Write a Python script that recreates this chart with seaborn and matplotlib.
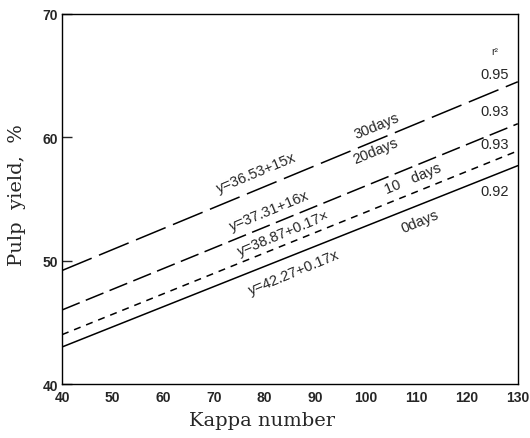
import matplotlib
matplotlib.use("Agg")
import matplotlib.pyplot as plt
import seaborn as sns
import pandas as pd

# Data
kappa = [40, 130]
series_names = ["30days", "20days", "10days", "0days"]
yield_30 = [49.2, 64.5]
yield_20 = [46.0, 61.1]
yield_10 = [44.0, 58.9]
yield_0 = [43.0, 57.7]
r2_values = ["0.95", "0.93", "0.93", "0.92"]
equations = ["y=36.53+15x", "y=37.31+16x", "y=38.87+0.17\u00d7", "y=42.27+0.17x"]
series_labels = ["30days", "20days", "10   days", "0days"]
x_ticks = [40, 50, 60, 70, 80, 90, 100, 110, 120, 130]
y_ticks = [40, 50, 60, 70]

sns.set_theme(style="white")
plt.rcParams["font.family"] = ["Liberation Sans Narrow", "Liberation Sans", "DejaVu Sans"]

rows = []
for name, vals in zip(series_names, [yield_30, yield_20, yield_10, yield_0]):
    for k, v in zip(kappa, vals):
        rows.append({"kappa": k, "yield": v, "series": name})
df = pd.DataFrame(rows)

fig = plt.figure(figsize=(5.30, 4.39), dpi=100)
ax = fig.add_axes([0.117, 0.123, 0.860, 0.843])

dash_map = {"30days": (21, 5.2), "20days": (12.5, 4.3), "10days": (4.6, 3.9), "0days": ""}
sns.lineplot(data=df, x="kappa", y="yield", hue="series", style="series",
             dashes=dash_map, palette=["black"] * 4, linewidth=1.1,
             legend=False, ax=ax)

ax.set_xlim(40, 130)
ax.set_ylim(40, 70)
ax.set_xticks(x_ticks)
ax.set_yticks(y_ticks)
ax.tick_params(axis="x", length=0, labelsize=10, pad=4)
ax.tick_params(axis="y", direction="in", length=7, width=1, left=True, labelsize=10, pad=3)
for lab in ax.get_xticklabels() + ax.get_yticklabels():
    lab.set_fontweight("bold")
for s in ax.spines.values():
    s.set_color("black")
    s.set_linewidth(1.0)

ax.set_xlabel("Kappa number", family=["DejaVu Serif"], fontsize=14)
ax.set_ylabel("Pulp  yield,  %", family=["DejaVu Serif"], fontsize=14)
ax.xaxis.set_label_coords(0.439, -0.072)
ax.yaxis.set_label_coords(-0.078, 0.514)

rot = 22.5
# equations
eq_pos = [(78.3, 57.2), (80.9, 54.05), (83.8, 52.3), (85.8, 49.06)]
for txt, (x, y) in zip(equations, eq_pos):
    ax.text(x, y, txt, rotation=rot, ha="center", va="center", fontsize=10.5)
# series labels
lab_pos = [(102.2, 60.95), (101.9, 58.9), (109.3, 56.7), (110.7, 53.24)]
for txt, (x, y) in zip(series_labels, lab_pos):
    ax.text(x, y, txt, rotation=rot, ha="center", va="center", fontsize=10.5)
# r^2 column
ax.text(125.5, 67.0, "r\u00b2", ha="center", va="center", fontsize=7.5)
r2_pos = [65.14, 62.14, 59.46, 55.65]
for txt, y in zip(r2_values, r2_pos):
    ax.text(125.5, y, txt, ha="center", va="center", fontsize=10.5)

fig.savefig("out.png", dpi=100)
